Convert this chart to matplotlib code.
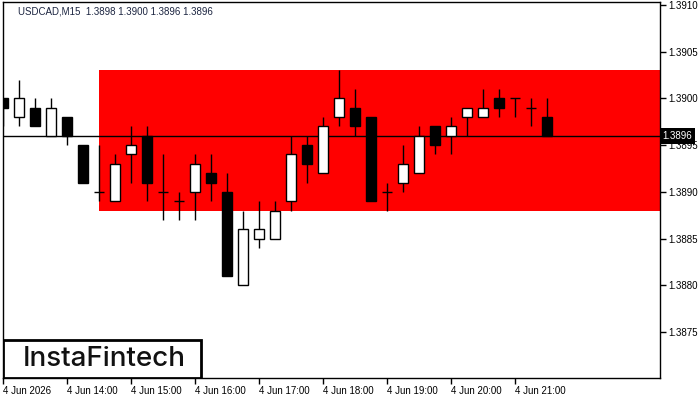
#!/usr/bin/env python3
import matplotlib
matplotlib.use('Agg')
import matplotlib.pyplot as plt
from matplotlib.patches import Rectangle
import matplotlib.transforms as mtransforms

plt.rcParams['font.family'] = ['Liberation Sans', 'DejaVu Sans']

# 15-minute candles from 4 Jun 13:00
opens = [1.3900, 1.3898, 1.3899, 1.3896, 1.3898, 1.3895, 1.3890, 1.3889, 1.3894, 1.3896,
         1.3890, 1.3889, 1.3890, 1.3892, 1.3890, 1.3880, 1.3885, 1.3885, 1.3889, 1.3895,
         1.3892, 1.3898, 1.3899, 1.3898, 1.3890, 1.3891, 1.3892, 1.3897, 1.3896, 1.3898,
         1.3898, 1.3900, 1.3900, 1.3899, 1.3898]
highs = [1.3900, 1.3902, 1.3900, 1.3900, 1.3898, 1.3895, 1.3895, 1.3894, 1.3897, 1.3897,
         1.3894, 1.3890, 1.3894, 1.3894, 1.3892, 1.3888, 1.3889, 1.3889, 1.3896, 1.3896,
         1.3898, 1.3903, 1.3901, 1.3898, 1.3891, 1.3895, 1.3897, 1.3897, 1.3898, 1.3899,
         1.3901, 1.3901, 1.3900, 1.3900, 1.3900]
lows = [1.3897, 1.3897, 1.3897, 1.3896, 1.3895, 1.3891, 1.3889, 1.3889, 1.3891, 1.3889,
        1.3887, 1.3887, 1.3887, 1.3889, 1.3881, 1.3880, 1.3884, 1.3885, 1.3888, 1.3891,
        1.3892, 1.3897, 1.3896, 1.3889, 1.3888, 1.3890, 1.3892, 1.3894, 1.3894, 1.3896,
        1.3898, 1.3898, 1.3898, 1.3897, 1.3896]
closes = [1.3899, 1.3900, 1.3897, 1.3899, 1.3896, 1.3891, 1.3890, 1.3893, 1.3895, 1.3891,
          1.3890, 1.3889, 1.3893, 1.3891, 1.3881, 1.3886, 1.3886, 1.3888, 1.3894, 1.3893,
          1.3897, 1.3900, 1.3897, 1.3889, 1.3890, 1.3893, 1.3896, 1.3895, 1.3897, 1.3899,
          1.3899, 1.3899, 1.3900, 1.3899, 1.3896]

x_ticks = [0, 4, 8, 12, 16, 20, 24, 28, 32]
x_labels = ['4 Jun 2026', '4 Jun 14:00', '4 Jun 15:00', '4 Jun 16:00', '4 Jun 17:00',
            '4 Jun 18:00', '4 Jun 19:00', '4 Jun 20:00', '4 Jun 21:00']
y_ticks = [1.3875, 1.3880, 1.3885, 1.3890, 1.3895, 1.3900, 1.3905, 1.3910]

zone_start = 6
zone_low, zone_high = 1.3888, 1.3903
last_price = 1.3896

fig = plt.figure(figsize=(7, 4), dpi=100)
ax = fig.add_axes([3 / 700, 22 / 400, 657 / 700, 376 / 400])
ax.set_xlim(0, 41.06)
ax.set_ylim(1.38701, 1.39103)

ax.add_patch(Rectangle((zone_start, zone_low), 100, zone_high - zone_low,
                       facecolor='#ff0000', edgecolor='none', zorder=1))
ax.axhline(last_price, color='black', lw=1, zorder=2)

w = 0.62
for i in range(len(opens)):
    o, h, l, c = opens[i], highs[i], lows[i], closes[i]
    ax.vlines(i, l, h, color='black', lw=1, zorder=3)
    if abs(c - o) < 1e-7:
        ax.hlines(o, i - w / 2, i + w / 2, color='black', lw=1, zorder=4)
    else:
        fc = 'white' if c > o else 'black'
        ax.bar(i, abs(c - o), bottom=min(o, c), width=w, facecolor=fc,
               edgecolor='black', lw=1, zorder=4)

ax.yaxis.tick_right()
ax.set_yticks(y_ticks)
ax.set_yticklabels(['%.4f' % v for v in y_ticks])
ax.set_xticks(x_ticks)
ax.set_xticklabels(x_labels, ha='left')
ax.tick_params(axis='both', labelsize=7, length=4, width=1, color='black', pad=2)
for s in ax.spines.values():
    s.set_linewidth(1)

trans = mtransforms.blended_transform_factory(ax.transAxes, ax.transData)
ax.text(1.004, last_price, '1.3896', transform=trans, fontsize=7, color='white',
        va='center', ha='left', zorder=10,
        bbox=dict(boxstyle='square,pad=0.3', facecolor='black', edgecolor='none'),
        clip_on=False)

fig.text(18 / 700, 1 - 11 / 400, 'USDCAD,M15  1.3898 1.3900 1.3896 1.3896',
         fontsize=7, color='#1c2541', va='center', ha='left')

ax.add_patch(Rectangle((0, 0), 198 / 657, 38 / 376, transform=ax.transAxes,
                       facecolor='white', edgecolor='black', lw=2, zorder=8))
ax.text(101 / 657, 19 / 376, 'InstaFintech', transform=ax.transAxes, fontsize=20,
        family=['Inter', 'DejaVu Sans'], fontweight='medium', color='#111111',
        ha='center', va='center', zorder=9)

fig.savefig('out.png', dpi=100)
